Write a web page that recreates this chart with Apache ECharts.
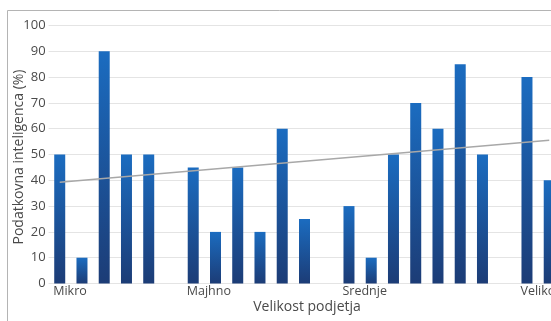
<!DOCTYPE html>
<html>
<head>
<meta charset="utf-8">
<script src="https://cdn.jsdelivr.net/npm/echarts@6/dist/echarts.min.js"></script>
<style>
  html, body { margin: 0; padding: 0; background: #ffffff; }
  #chart { width: 551px; height: 321px; }
</style>
</head>
<body>
<div id="chart"></div>
<script>
// Company-size groups; blank slots separate the groups on the category axis
const categories = ['Mikro', '', '', '', '', '',
  'Majhno', '', '', '', '', '', '',
  'Srednje', '', '', '', '', '', '', '',
  'Veliko', '', ''];

// Share of data intelligence per company (%), null = gap between groups
const values = [50, 10, 90, 50, 50, null,
  45, 20, 45, 20, 60, 25, null,
  30, 10, 50, 70, 60, 85, 50, null,
  80, 40, null];

// Linear trend line end points (first and last visible category)
const trendIndex = [0, 22];
const trendValues = [39.2, 55.5];

// Y axis ticks
const yTicks = [0, 10, 20, 30, 40, 50, 60, 70, 80, 90, 100];

const trendData = categories.map(() => null);
trendIndex.forEach((idx, k) => { trendData[idx] = trendValues[k]; });

const font = '"Open Sans", "Noto Sans", sans-serif';
const chart = echarts.init(document.getElementById('chart'), null, { renderer: 'canvas' });

// plot area runs past the right edge of the canvas
const catWidth = 22.25;
const gridLeft = 48.6;
const gridRight = 551 - (gridLeft + catWidth * categories.length);

chart.setOption({
  animation: false,
  backgroundColor: '#ffffff',
  grid: {
    left: gridLeft, top: 25.5, bottom: 37.5, right: gridRight,
    containLabel: false,
    outerBoundsMode: 'none'
  },
  xAxis: {
    type: 'category',
    data: categories,
    boundaryGap: true,
    axisLine: { show: false },
    axisTick: { show: false },
    axisLabel: {
      interval: 0,
      align: 'left',
      padding: [0, 0, 0, -6.5],
      margin: 1,
      fontFamily: font,
      fontSize: 12.5,
      color: '#4a4a4a'
    }
  },
  yAxis: {
    type: 'value',
    min: yTicks[0],
    max: yTicks[yTicks.length - 1],
    interval: yTicks[1] - yTicks[0],
    axisLine: { show: false },
    axisTick: { show: false },
    splitLine: { lineStyle: { color: '#e4e4e4', width: 1 } },
    axisLabel: {
      margin: 3,
      fontFamily: font,
      fontSize: 13,
      color: '#4a4a4a'
    }
  },
  series: [
    {
      type: 'bar',
      data: values,
      barWidth: 11,
      itemStyle: {
        color: new echarts.graphic.LinearGradient(0, 0, 0, 1, [
          { offset: 0, color: '#1b6cc0' },
          { offset: 1, color: '#1c3c76' }
        ])
      },
      z: 2
    },
    {
      type: 'line',
      data: trendData,
      connectNulls: true,
      symbol: 'none',
      lineStyle: { color: '#a8a8a8', width: 1.5 },
      z: 3
    }
  ],
  graphic: [
    {
      type: 'rect',
      shape: { x: 7.5, y: 10.5, width: 700, height: 400 },
      style: { fill: 'none', stroke: '#b4b4b4', lineWidth: 1 },
      silent: true,
      z: -10
    },
    {
      type: 'text',
      x: 307,
      y: 307,
      style: {
        text: 'Velikost podjetja',
        font: '14px ' + font,
        fill: '#4a4a4a',
        textAlign: 'center',
        textVerticalAlign: 'middle'
      }
    },
    {
      type: 'text',
      x: 19,
      y: 157,
      rotation: Math.PI / 2,
      style: {
        text: 'Podatkovna inteligenca (%)',
        font: '14px ' + font,
        fill: '#4a4a4a',
        textAlign: 'center',
        textVerticalAlign: 'middle'
      }
    }
  ]
});
</script>
</body>
</html>
